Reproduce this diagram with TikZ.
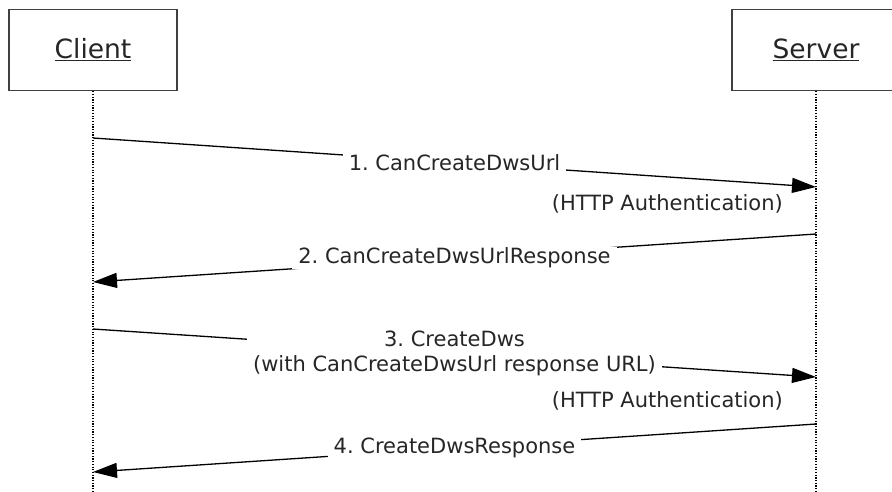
\documentclass[tikz,border=0pt]{standalone}
\usepackage{fontspec}
\setmainfont{DejaVu Sans}
\frenchspacing
\usetikzlibrary{positioning, arrows.meta}

\tikzset{
    actor/.style={draw=black!75, line width=1.5pt, minimum width=168pt, minimum height=81pt, text=black!85, font=\fontsize{26.5}{30}\selectfont},
    lifeline/.style={line width=1.3pt, dash pattern=on 1.2pt off 1.5pt},
    msg/.style={line width=1.3pt, -{Triangle[length=24pt, width=15pt]}},
    lbl/.style={fill=white, text=black!85, font=\fontsize{21}{25}\selectfont, inner xsep=6pt, inner ysep=1pt, align=center},
    note/.style={text=black!85, font=\fontsize{21}{25}\selectfont, inner sep=0pt}
}

\begin{document}
\begin{tikzpicture}[x=1pt, y=-1pt]
    \useasboundingbox (0,0) rectangle (892,491);
    \node[actor] (client) at (93, 50) {\underline{Client}};
    \node[actor] (server) at (816, 50) {\underline{Server}};
    \coordinate (clientEnd) at (93, 491);
    \coordinate (serverEnd) at (816, 491);
    \draw[lifeline] (client.south) -- (clientEnd);
    \draw[lifeline] (server.south) -- (serverEnd);

    % points on the lifelines
    \coordinate (c1) at (93, 138);
    \coordinate (s1) at (816, 187);
    \coordinate (s2) at (816, 234);
    \coordinate (c2) at (93, 282);
    \coordinate (c3) at (93, 329);
    \coordinate (s3) at (816, 377);
    \coordinate (s4) at (816, 424);
    \coordinate (c4) at (93, 472);

    \draw[msg] (c1) -- node[lbl] (askUrl) {1. CanCreateDwsUrl} (s1);
    \node[note, below left = 7pt and 33pt of s1] (authOne) {(HTTP Authentication)};
    \draw[msg] (s2) -- node[lbl] (urlResp) {2. CanCreateDwsUrlResponse} (c2);
    \draw[msg] (c3) -- node[lbl] (create) {3. CreateDws\\(with CanCreateDwsUrl response URL)} (s3);
    \node[note, below left = 14pt and 33pt of s3] (authTwo) {(HTTP Authentication)};
    \draw[msg] (s4) -- node[lbl] (createResp) {4. CreateDwsResponse} (c4);
\end{tikzpicture}
\end{document}
